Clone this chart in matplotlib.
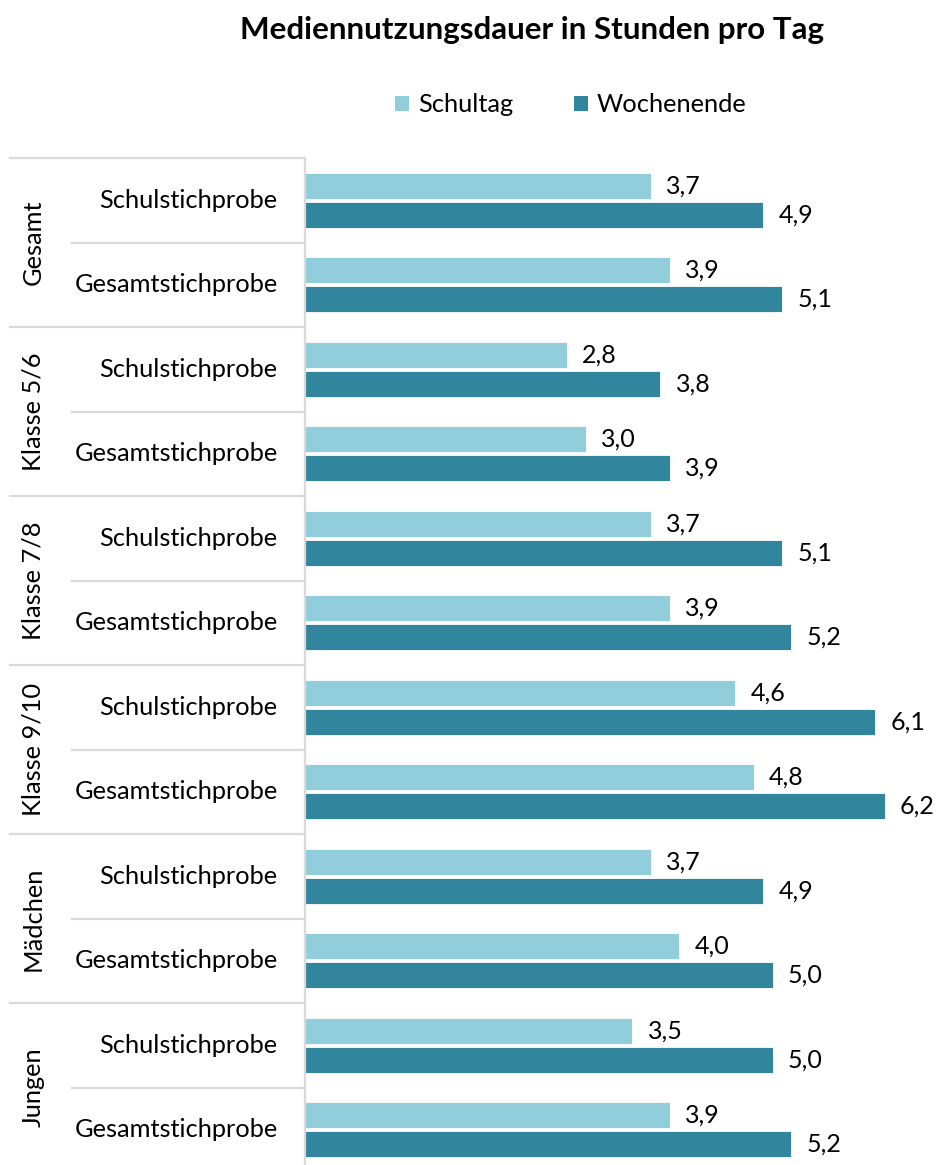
import numpy as np
import matplotlib.pyplot as plt
from matplotlib.patches import Patch

plt.rcParams['font.family'] = ['Lato', 'DejaVu Sans']

groups = ["Gesamt", "Klasse 5/6", "Klasse 7/8", "Klasse 9/10", "Mädchen", "Jungen"]
samples = ["Schulstichprobe", "Gesamtstichprobe"]
schultag = [3.7, 3.9, 2.8, 3.0, 3.7, 3.9, 4.6, 4.8, 3.7, 4.0, 3.5, 3.9]
wochenende = [4.9, 5.1, 3.8, 3.9, 5.1, 5.2, 6.1, 6.2, 4.9, 5.0, 5.0, 5.2]

c_light = "#92CDDC"
c_dark = "#31859C"
c_grid = "#D9D9D9"
fs = 18.3

fig = plt.figure(figsize=(9.39, 11.65), dpi=100)
ax = fig.add_axes([305 / 939, -7 / 1165, 634 / 939, (1172 - 158) / 1165])

n = len(schultag)
y = np.arange(n)
off = 0.173
h = 0.31
ax.barh(y - off, schultag, height=h, color=c_light, edgecolor="white", linewidth=0.6)
ax.barh(y + off, wochenende, height=h, color=c_dark, edgecolor="white", linewidth=0.6)

for yi, v in zip(y, schultag):
    ax.annotate(f"{v:.1f}".replace(".", ","), (v, yi - off), xytext=(11, 0),
                textcoords="offset points", va="center", ha="left", fontsize=18)
for yi, v in zip(y, wochenende):
    ax.annotate(f"{v:.1f}".replace(".", ","), (v, yi + off), xytext=(11, 0),
                textcoords="offset points", va="center", ha="left", fontsize=18)

ax.set_xlim(0, 6.78)
ax.set_ylim(n - 0.5, -0.5)
ax.set_xticks([])
ax.set_yticks([])
for s in ["top", "right", "bottom"]:
    ax.spines[s].set_visible(False)
ax.spines["left"].set_color(c_grid)
ax.spines["left"].set_linewidth(1.6)

tr = ax.get_yaxis_transform()
# row labels
for i in range(n):
    ax.text(-0.043, i, samples[i % 2], transform=tr, ha="right", va="center", fontsize=fs)
# group labels
for g, name in enumerate(groups):
    ax.text(-0.429, 2 * g + 0.5, name, transform=tr, ha="center", va="center",
            rotation=90, fontsize=fs)
# separator lines
for k in range(n):
    yb = k - 0.5
    x0 = -0.465 if k % 2 == 0 else -0.3675
    ax.plot([x0, 0], [yb, yb], transform=tr, color=c_grid, lw=1.6, clip_on=False)

fig.text(532 / 939, 1 - 30 / 1165, "Mediennutzungsdauer in Stunden pro Tag",
         ha="center", va="center", fontsize=22.6, fontweight="bold")

handles = [Patch(facecolor=c_light, label="Schultag"), Patch(facecolor=c_dark, label="Wochenende")]
fig.legend(handles=handles, loc="center", bbox_to_anchor=(571 / 939, 1 - 105 / 1165), ncol=2,
           frameon=False, fontsize=fs, handlelength=0.55, handleheight=0.55,
           handletextpad=0.35, columnspacing=2.4)

fig.savefig("out.png", dpi=100)
